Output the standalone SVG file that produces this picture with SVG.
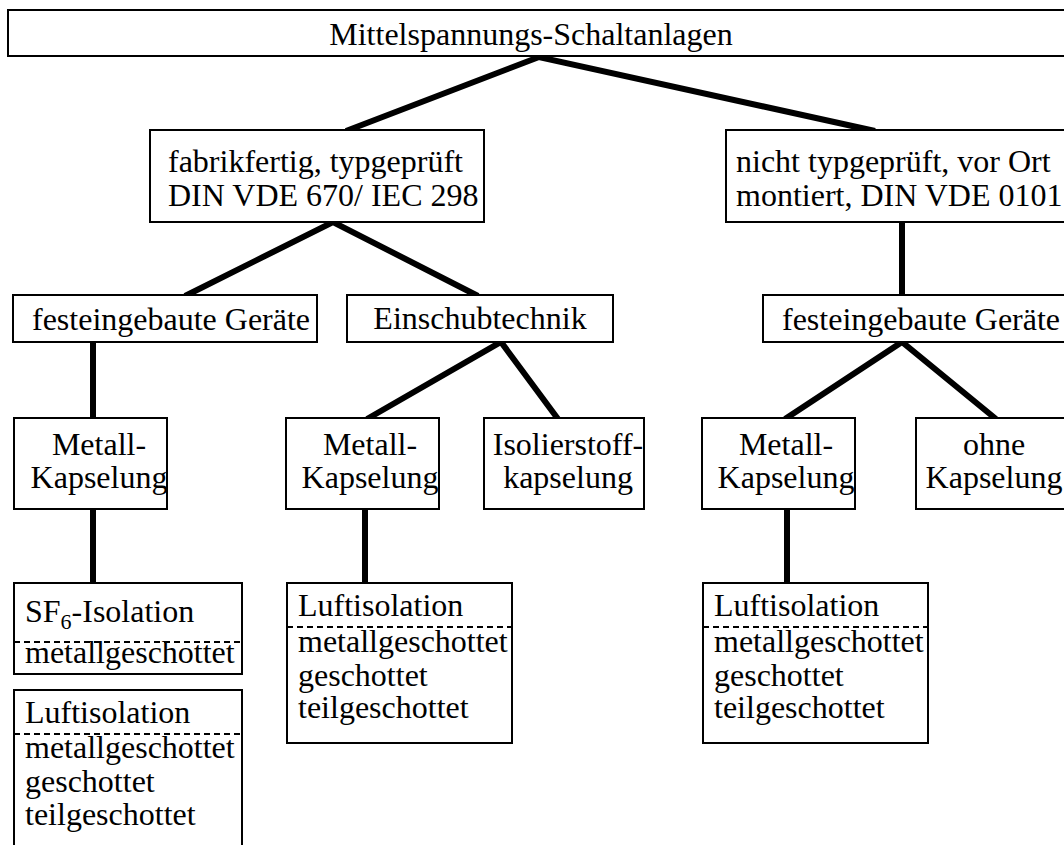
<svg xmlns="http://www.w3.org/2000/svg" width="1064" height="845" viewBox="0 0 1064 845">
<style>
.box{fill:#fff;stroke:#000;stroke-width:2}
.con{stroke:#000;stroke-width:6;fill:none;stroke-linejoin:miter}
.dash{stroke:#000;stroke-width:2;stroke-dasharray:6 4;fill:none}
text{font-family:"Liberation Serif","Times New Roman",serif;font-size:32px;fill:#000}
.m{text-anchor:middle}
</style>
<rect width="1064" height="845" fill="#fff"/>
<g id="connectors">
<polyline class="con" points="346,131 539,57 875,131"/>
<polyline class="con" points="185,296 333,222 478,296"/>
<line class="con" x1="902" y1="222" x2="902" y2="296"/>
<line class="con" x1="93" y1="342" x2="93" y2="419"/>
<polyline class="con" points="367,419 501,342 558,419"/>
<polyline class="con" points="785,419 902,342 996,419"/>
<line class="con" x1="93" y1="509" x2="93" y2="584"/>
<line class="con" x1="365" y1="509" x2="365" y2="584"/>
<line class="con" x1="787" y1="509" x2="787" y2="584"/>
</g>
<g id="root">
<rect class="box" x="8" y="10" width="1070" height="46"/>
<text class="m" x="531" y="45">Mittelspannungs-Schaltanlagen</text>
</g>
<g id="fabrikfertig">
<rect class="box" x="150" y="130" width="334" height="92"/>
<text x="168" y="172">fabrikfertig, typgeprüft</text>
<text x="168" y="206">DIN VDE 670/ IEC 298</text>
</g>
<g id="nicht-typgeprueft">
<rect class="box" x="726" y="130" width="350" height="92"/>
<text x="736" y="172">nicht typgeprüft, vor Ort</text>
<text x="736" y="206">montiert, DIN VDE 0101</text>
</g>
<g id="fest-left">
<rect class="box" x="13" y="295" width="304" height="47"/>
<text x="32" y="330">festeingebaute Geräte</text>
</g>
<g id="einschub">
<rect class="box" x="347" y="295" width="266" height="47"/>
<text class="m" x="480" y="329">Einschubtechnik</text>
</g>
<g id="fest-right">
<rect class="box" x="763" y="295" width="310" height="47"/>
<text x="782" y="330">festeingebaute Geräte</text>
</g>
<g id="metall-left">
<rect class="box" x="14" y="418" width="153" height="91"/>
<text class="m" x="99" y="455">Metall-</text>
<text class="m" x="99" y="488">Kapselung</text>
</g>
<g id="metall-mid">
<rect class="box" x="286" y="418" width="153" height="91"/>
<text class="m" x="370" y="455">Metall-</text>
<text class="m" x="370" y="488">Kapselung</text>
</g>
<g id="isolierstoff">
<rect class="box" x="484" y="418" width="160" height="91"/>
<text class="m" x="568" y="455">Isolierstoff-</text>
<text class="m" x="568" y="488">kapselung</text>
</g>
<g id="metall-right">
<rect class="box" x="702" y="418" width="153" height="91"/>
<text class="m" x="786" y="455">Metall-</text>
<text class="m" x="786" y="488">Kapselung</text>
</g>
<g id="ohne">
<rect class="box" x="916" y="418" width="160" height="91"/>
<text class="m" x="994" y="455">ohne</text>
<text class="m" x="994" y="488">Kapselung</text>
</g>
<g id="sf6">
<rect class="box" x="14" y="583" width="228" height="91"/>
<text x="25" y="622">SF<tspan font-size="22" dy="7">6</tspan><tspan dy="-7">-Isolation</tspan></text>
<line class="dash" x1="14" y1="642" x2="242" y2="642"/>
<text x="25" y="663">metallgeschottet</text>
</g>
<g id="luft-left">
<rect class="box" x="14" y="690" width="228" height="170"/>
<text x="25" y="723">Luftisolation</text>
<line class="dash" x1="14" y1="734" x2="242" y2="734"/>
<text x="25" y="758">metallgeschottet</text>
<text x="25" y="792">geschottet</text>
<text x="25" y="825">teilgeschottet</text>
</g>
<g id="luft-mid">
<rect class="box" x="287" y="583" width="225" height="160"/>
<text x="298" y="616">Luftisolation</text>
<line class="dash" x1="287" y1="627" x2="512" y2="627"/>
<text x="298" y="652">metallgeschottet</text>
<text x="298" y="686">geschottet</text>
<text x="298" y="718">teilgeschottet</text>
</g>
<g id="luft-right">
<rect class="box" x="703" y="583" width="225" height="160"/>
<text x="714" y="616">Luftisolation</text>
<line class="dash" x1="703" y1="627" x2="928" y2="627"/>
<text x="714" y="652">metallgeschottet</text>
<text x="714" y="686">geschottet</text>
<text x="714" y="718">teilgeschottet</text>
</g>
</svg>
